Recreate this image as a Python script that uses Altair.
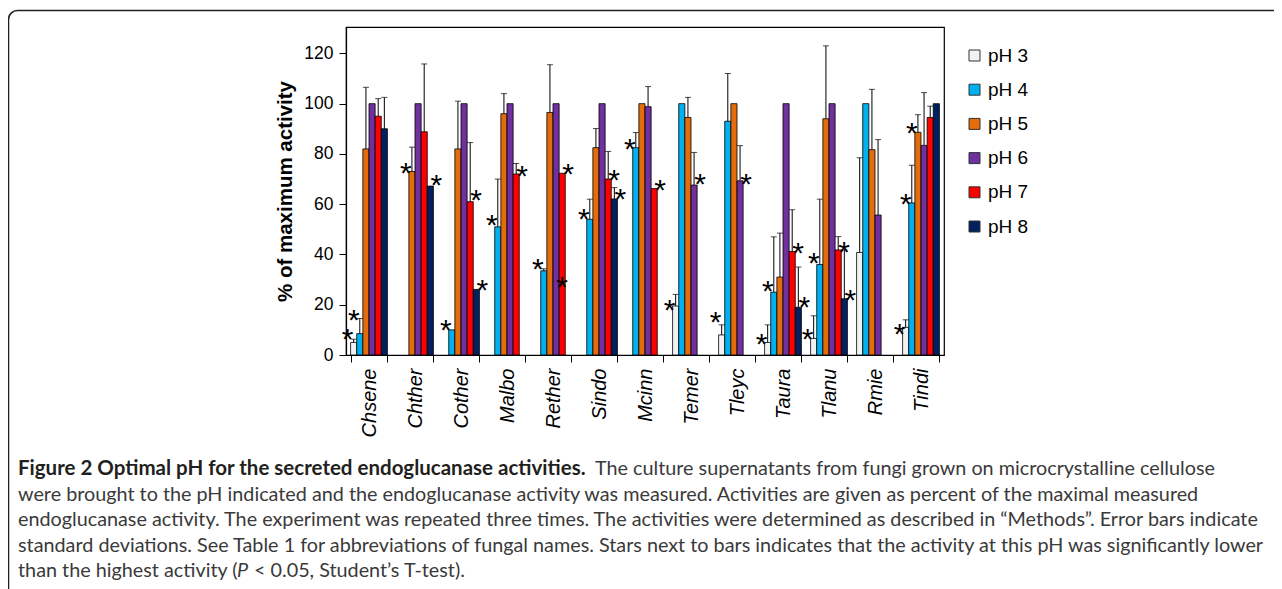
import altair as alt
import pandas as pd

# ---------------- data ----------------
groups = ["Chsene", "Chther", "Cother", "Malbo", "Rether", "Sindo", "Mcinn",
          "Temer", "Tleyc", "Taura", "Tlanu", "Rmie", "Tindi"]
ph_labels = ["pH 3", "pH 4", "pH 5", "pH 6", "pH 7", "pH 8"]
ph_colors = ["#f2f2f2", "#00b0f0", "#e46c0a", "#7030a0", "#ff0000", "#002060"]

ph3 = [5, None, None, None, None, None, None, 19.5, 8, 5, 6.6, 40.8, 11]
ph3_err = [1.3, 0, 0, 0, 0, 0, 0, 4.6, 4, 7, 9, 37.7, 3]
ph4 = [8.5, None, 10, 51, 33.5, 54, 82.5, 100, 93, 25, 36, 100, 60.5]
ph4_err = [6, 0, 0, 19, 0.8, 8, 6, 0, 19, 22, 26, 0, 15]
ph5 = [82, 73, 82, 96, 96.5, 82.5, 100, 94.5, 100, 31, 94, 81.7, 88.6]
ph5_err = [24.5, 9.7, 19, 8, 19, 7.6, 0, 8, 0, 17.5, 29, 24, 7]
ph6 = [100, 100, 100, 100, 100, 100, 98.8, 67.6, 69.3, 100, 100, 55.7, 83.4]
ph6_err = [0, 0, 0, 0, 0, 0, 8, 13, 14, 0, 0, 30, 21]
ph7 = [95, 88.8, 61, 72, 72.3, 70, 66.2, None, None, 41.2, 41.8, None, 94.5]
ph7_err = [7, 27, 23.5, 4.2, 0, 11, 0, 0, 0, 16.6, 5.3, 0, 4.5]
ph8 = [90, 67.2, 26.1, None, None, 62.1, None, None, None, 19, 22.4, None, 100]
ph8_err = [12.5, 0, 0, 0, 0, 4.5, 0, 0, 0, 16, 19.4, 0, 0]

# significance stars: (group, pH, height of the star)
stars_left = [("Chsene", "pH 3", 9.3), ("Chsene", "pH 4", 16.7), ("Chther", "pH 5", 75.3),
              ("Cother", "pH 4", 12.7), ("Malbo", "pH 4", 54.4), ("Rether", "pH 4", 37),
              ("Sindo", "pH 4", 57), ("Mcinn", "pH 4", 84.9), ("Temer", "pH 3", 20.8),
              ("Tleyc", "pH 3", 15.9), ("Taura", "pH 3", 7), ("Taura", "pH 4", 28.2),
              ("Tlanu", "pH 3", 9.3), ("Tlanu", "pH 4", 39.4), ("Tindi", "pH 3", 11.3),
              ("Tindi", "pH 4", 63), ("Tindi", "pH 5", 91)]
stars_right = [("Chther", "pH 8", 70.4), ("Cother", "pH 7", 64.4), ("Cother", "pH 8", 28.6),
               ("Malbo", "pH 7", 73.9), ("Rether", "pH 7", 74.9), ("Sindo", "pH 7", 72.5),
               ("Sindo", "pH 8", 65), ("Mcinn", "pH 7", 68.5), ("Temer", "pH 6", 70.7),
               ("Tleyc", "pH 6", 70.9), ("Taura", "pH 7", 43.4), ("Taura", "pH 8", 21.9),
               ("Tlanu", "pH 7", 43.8), ("Tlanu", "pH 8", 24.8)]
stars_center = [("Rether", "pH 7", 30)]

y_ticks = [0, 20, 40, 60, 80, 100, 120]

caption_bold = "Figure 2 Optimal pH for the secreted endoglucanase activities."
caption_line1 = "The culture supernatants from fungi grown on microcrystalline cellulose"
caption_lines = [
    "were brought to the pH indicated and the endoglucanase activity was measured. Activities are given as percent of the maximal measured",
    "endoglucanase activity. The experiment was repeated three times. The activities were determined as described in \u201cMethods\u201d. Error bars indicate",
    "standard deviations. See Table 1 for abbreviations of fungal names. Stars next to bars indicates that the activity at this pH was significantly lower",
]
caption_last_a = "than the highest activity ("
caption_last_p = "P"
caption_last_b = "< 0.05, Student\u2019s T-test)."

# ---------------- tables ----------------
series = [ph3, ph4, ph5, ph6, ph7, ph8]
errors = [ph3_err, ph4_err, ph5_err, ph6_err, ph7_err, ph8_err]
rows = []
for ph, vals, errs in zip(ph_labels, series, errors):
    for g, v, e in zip(groups, vals, errs):
        if v is not None:
            rows.append({"Group": g, "pH": ph, "value": v, "err": e, "top": v + e})
df = pd.DataFrame(rows)
df_err = df[df["err"] > 0]


def star_df(lst):
    return pd.DataFrame([{"Group": g, "pH": p, "value": y} for g, p, y in lst])


W, H = 598, 328
FONT = "Liberation Sans"
CAP_FONT = "Lato"
CAP_FS = 19.8
BOLD_FS = 20.5

x_enc = alt.X("Group:N", sort=groups,
              scale=alt.Scale(domain=groups, paddingInner=0.2, paddingOuter=0.1),
              axis=alt.Axis(title=None, labelAngle=270, labelAlign="right", labelBaseline="middle",
                            labelFont=FONT, labelFontSize=20, labelFontStyle="italic",
                            labelColor="black", labelPadding=6, tickSize=7, tickColor="black",
                            tickBand="extent", domainColor="black", domainWidth=1.2))
xo_enc = alt.XOffset("pH:N", sort=ph_labels,
                     scale=alt.Scale(domain=ph_labels, paddingInner=0, paddingOuter=0))
y_scale = alt.Scale(domain=[0, 130.5], nice=False, zero=True)
y_axis = alt.Axis(values=y_ticks, grid=False, tickSize=7, tickColor="black",
                  domainColor="black", domainWidth=1.2, labelFont=FONT, labelFontSize=17.5,
                  labelColor="black", labelPadding=6, titleFont=FONT, titleFontSize=20.5,
                  titleFontWeight="bold", titleColor="black", titlePadding=8)

bars = alt.Chart(df).mark_bar(stroke="black", strokeWidth=0.8).encode(
    x=x_enc,
    xOffset=xo_enc,
    y=alt.Y("value:Q", scale=y_scale, axis=y_axis, title="% of maximum activity"),
    color=alt.Color("pH:N", sort=ph_labels,
                    scale=alt.Scale(domain=ph_labels, range=ph_colors),
                    legend=alt.Legend(title=None, orient="none", legendX=619, legendY=19,
                                      symbolType="square", symbolSize=121,
                                      symbolStrokeColor="#333333", symbolStrokeWidth=1,
                                      labelFont=FONT, labelFontSize=19, labelColor="black",
                                      labelOffset=4, rowPadding=14.2, padding=0)),
)

err_rule = alt.Chart(df_err).mark_rule(color="black", strokeWidth=1).encode(
    x=x_enc, xOffset=xo_enc, y=alt.Y("value:Q", scale=y_scale), y2="top:Q")
err_cap = alt.Chart(df_err).mark_tick(color="black", thickness=1, size=6).encode(
    x=x_enc, xOffset=xo_enc, y=alt.Y("top:Q", scale=y_scale))


def star_layer(lst, dx):
    return alt.Chart(star_df(lst)).mark_text(
        text="*", font=FONT, fontSize=30, color="black", dx=dx, dy=17,
        align="center", baseline="alphabetic").encode(
        x=x_enc, xOffset=xo_enc, y=alt.Y("value:Q", scale=y_scale))


one = alt.Data(values=[{"a": 1}])
frame = alt.Chart(one).mark_rect(fillOpacity=0, stroke="#231f20", strokeWidth=1.5,
                                 cornerRadius=9).encode(
    x=alt.value(-337.5), x2=alt.value(1100), y=alt.value(-16.5), y2=alt.value(800))

CX = -328
Y1 = 432.4
LH = 25.5


def cap_text(txt, x, y, **kw):
    props = dict(font=CAP_FONT, fontSize=CAP_FS, color="#3a3a3a", align="left", baseline="top")
    props.update(kw)
    return alt.Chart(one).mark_text(**props).encode(
        x=alt.value(x), y=alt.value(y), text=alt.value(txt))


cap_bold = cap_text(caption_bold, CX, Y1 - 0.6, fontSize=BOLD_FS, fontWeight="bold", color="#231f20")
cap_l1 = cap_text(caption_line1, CX + 577, Y1)
cap_mid = cap_text(caption_lines, CX, Y1 + LH, lineHeight=LH)
cap_a = cap_text(caption_last_a, CX, Y1 + 4 * LH)
cap_p = cap_text(caption_last_p, CX + 219, Y1 + 4 * LH, fontStyle="italic")
cap_b = cap_text(caption_last_b, CX + 236, Y1 + 4 * LH)

chart = alt.layer(
    frame, bars, err_rule, err_cap,
    star_layer(stars_left, -6), star_layer(stars_right, 6), star_layer(stars_center, 0),
    cap_bold, cap_l1, cap_mid, cap_a, cap_p, cap_b,
).properties(
    width=W, height=H, autosize="none",
    padding={"left": 338, "top": 19, "right": 330, "bottom": 234},
).configure_view(stroke="black", strokeWidth=1.2)

chart.save("out.html", embed_options={"renderer": "svg", "actions": False})
